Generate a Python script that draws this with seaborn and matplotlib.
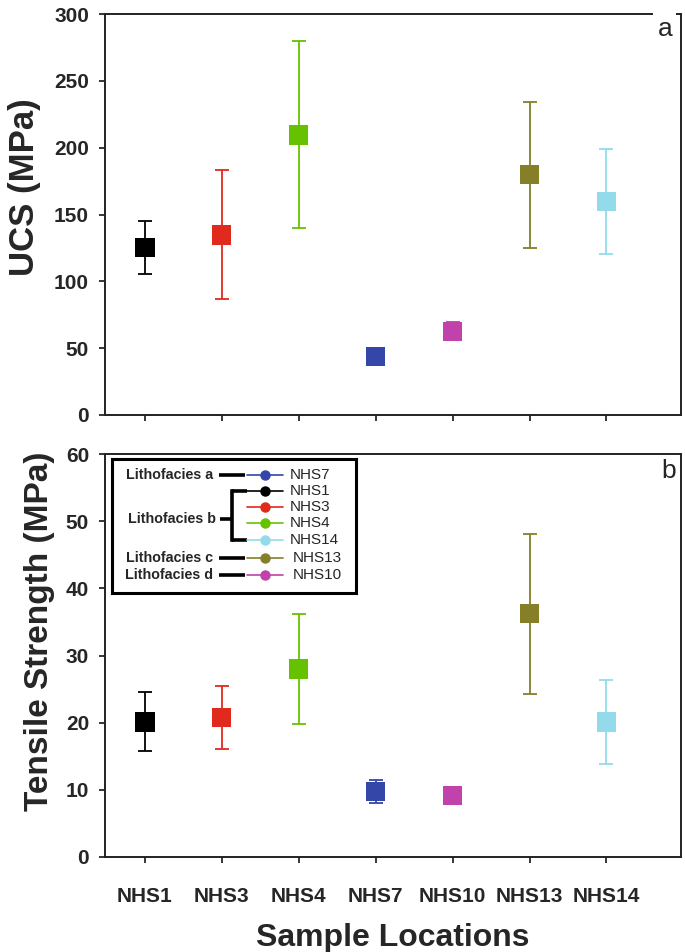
import matplotlib
matplotlib.use("Agg")
import matplotlib.pyplot as plt
import seaborn as sns
import pandas as pd
import numpy as np

# ---- data ----
samples = ["NHS1", "NHS3", "NHS4", "NHS7", "NHS10", "NHS13", "NHS14"]
colors = ["#000000", "#e02a1e", "#66c200", "#3447a8", "#c042aa", "#857f28", "#93dbea"]

ucs_mean = [125.5, 134.7, 209.5, 43.8, 62.3, 179.8, 159.6]
ucs_low = [105.7, 86.8, 139.9, 43.8, 56.0, 124.7, 120.7]
ucs_high = [144.9, 183.3, 280.0, 43.8, 69.5, 234.2, 198.8]

ts_mean = [20.1, 20.8, 28.0, 9.7, 9.2, 36.2, 20.1]
ts_low = [15.8, 16.1, 19.8, 8.0, 9.2, 24.3, 13.8]
ts_high = [24.6, 25.4, 36.2, 11.5, 9.2, 48.1, 26.4]

legend_groups = ["Lithofacies a", "Lithofacies b", "Lithofacies c", "Lithofacies d"]
legend_order = ["NHS7", "NHS1", "NHS3", "NHS4", "NHS14", "NHS13", "NHS10"]

# ---- style ----
sns.set_theme(style="ticks")
plt.rcParams["font.family"] = ["Liberation Sans", "DejaVu Sans"]

W, H = 685, 952
fig = plt.figure(figsize=(W / 100, H / 100), dpi=100)


def px_axes(l, t, r, b):
    return fig.add_axes([l / W, 1 - b / H, (r - l) / W, (b - t) / H])


ax1 = px_axes(105, 14, 681, 415)
ax2 = px_axes(105, 454, 681, 857)

xpos = np.arange(1, len(samples) + 1)
palette = dict(zip(samples, colors))


def draw(ax, mean, low, high, ylim, yticks, ylabel, letter, show_xlabels,
         ylab_size, ylab_xy, letter_xy):
    df = pd.DataFrame({"x": xpos, "y": mean, "s": samples})
    for xi, m, lo, hi, c in zip(xpos, mean, low, high, colors):
        if hi - lo > 0:
            ax.errorbar([xi], [m], yerr=[[m - lo], [hi - m]], fmt="none",
                        ecolor=c, elinewidth=1.3, capsize=4.8, capthick=1.3, zorder=2)
    sns.scatterplot(data=df, x="x", y="y", hue="s", palette=palette, marker="s",
                    s=190, linewidth=0, legend=False, ax=ax, zorder=3)
    ax.set_xlim(0.48, 7.97)
    ax.set_ylim(*ylim)
    ax.set_yticks(yticks)
    ax.set_xticks(xpos)
    if show_xlabels:
        ax.set_xticklabels(samples, fontsize=15, fontweight="bold")
    else:
        ax.set_xticklabels([])
    ax.tick_params(axis="y", labelsize=15, direction="out", length=4.5, width=1.3, pad=7)
    ax.tick_params(axis="x", direction="out", length=4.5, width=1.3, pad=17)
    for lab in ax.get_yticklabels():
        lab.set_fontweight("bold")
    ax.set_ylabel(ylabel, fontsize=ylab_size, fontweight="bold")
    ax.yaxis.set_label_coords(*ylab_xy)
    ax.set_xlabel("")
    for sp in ax.spines.values():
        sp.set_visible(True)
        sp.set_linewidth(1.4)
        sp.set_color("#222222")
    ax.text(letter_xy[0], letter_xy[1], letter, transform=ax.transAxes, ha="center",
            va="baseline", fontsize=19,
            bbox=dict(facecolor="white", edgecolor="none", pad=3), zorder=5)


draw(ax1, ucs_mean, ucs_low, ucs_high, (0, 300), [0, 50, 100, 150, 200, 250, 300],
     "UCS (MPa)", "a", False, 25, (-0.111, 0.569), (0.972, 0.945))
draw(ax2, ts_mean, ts_low, ts_high, (0, 60), [0, 10, 20, 30, 40, 50, 60],
     "Tensile Strength (MPa)", "b", True, 24, (-0.087, 0.56), (0.978, 0.94))
ax2.set_xlabel("Sample Locations", fontsize=23, fontweight="bold", labelpad=12)

# ---- custom legend ----
lg = px_axes(112, 459, 356, 593)
lg.set_xlim(0, 244)
lg.set_ylim(134, 0)
lg.set_xticks([])
lg.set_yticks([])
for sp in lg.spines.values():
    sp.set_linewidth(2.2)
    sp.set_color("black")
lg.set_facecolor("white")
lg.set_zorder(6)

row_y = dict(zip(legend_order, [16, 32, 48, 64, 81, 99, 116]))
group_y = [16, 60, 99, 116]
txt_x = [101, 104, 101, 101]
for g, gy, tx in zip(legend_groups, group_y, txt_x):
    lg.text(tx, gy, g, ha="right", va="center", fontsize=10.3, fontweight="bold")
# group connector lines
for gy in [16, 99, 116]:
    lg.plot([107, 133], [gy, gy], color="black", lw=2.6, solid_capstyle="butt")
lg.plot([108, 120], [60, 60], color="black", lw=2.6, solid_capstyle="butt")
lg.plot([120, 120], [32, 81], color="black", lw=2.6, solid_capstyle="projecting")
lg.plot([120, 135], [32, 32], color="black", lw=2.6, solid_capstyle="butt")
lg.plot([120, 135], [81, 81], color="black", lw=2.6, solid_capstyle="butt")
for s in legend_order:
    y = row_y[s]
    c = palette[s]
    lg.plot([135, 171], [y, y], color=c, lw=1.2)
    lg.plot([153], [y], marker="o", ms=6.5, color=c, mec=c)
    tx = 181 if s in ("NHS13", "NHS10") else 178
    lg.text(tx, y, s, ha="left", va="center", fontsize=11)

fig.savefig("out.png", dpi=100)
